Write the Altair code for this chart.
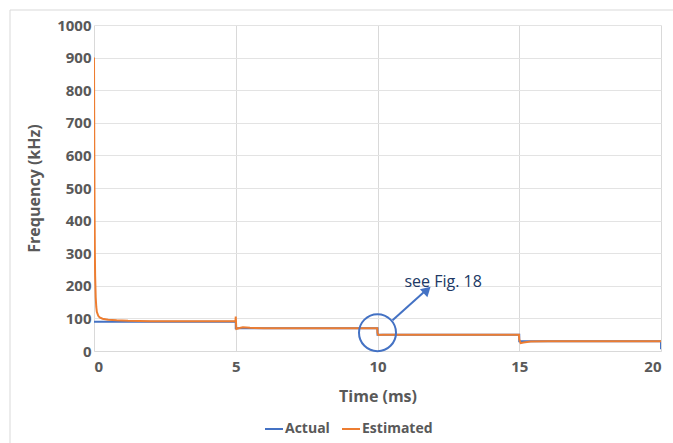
import altair as alt
import pandas as pd

# Set-point frequency (kHz) over time (ms)
actual_t = [0, 5, 5, 10, 10, 15, 15, 20, 20]
actual_f = [90, 90, 70, 70, 50, 50, 30, 30, 5]

# Estimated frequency from the observer
est_t = [0, 0.01, 0.02, 0.03, 0.04, 0.06, 0.08, 0.1, 0.15, 0.2, 0.3, 0.5, 0.8, 1.2, 2.0, 3.0,
         4.99, 5.0, 5.02, 5.1, 5.25, 5.5, 6.0, 9.99, 10.0, 10.03, 10.2, 10.5, 14.99, 15.0,
         15.05, 15.15, 15.4, 16.0, 20.0]
est_f = [900, 620, 420, 300, 230, 165, 135, 120, 108, 103, 99, 96, 94, 92.5, 91.5, 91,
         91, 106, 68, 70, 73, 71, 70, 70, 56, 49, 50, 50, 50, 36,
         24, 26, 29, 30, 30]

series_order = ["Actual", "Estimated"]
series_colors = ["#4472C4", "#ED7D31"]

x_ticks = [0, 5, 10, 15, 20]
y_ticks = [0, 100, 200, 300, 400, 500, 600, 700, 800, 900, 1000]

# Callout ring, arrow and note
ring_t, ring_f = [10.0], [56]
arrow_t, arrow_f, arrow_t2, arrow_f2 = [10.53], [94], [11.65], [182]
head_t, head_f = [11.75], [187]
note_t, note_f, note_text = [10.95], [212], ["see Fig. 18"]

rows = [{"t": t, "f": f, "series": "Actual", "k": i} for i, (t, f) in enumerate(zip(actual_t, actual_f))]
rows += [{"t": t, "f": f, "series": "Estimated", "k": i} for i, (t, f) in enumerate(zip(est_t, est_f))]
df = pd.DataFrame(rows)

FONT = "Open Sans"
GREY = "#595959"

x_scale = alt.Scale(domain=[0, 20], nice=False)
y_scale = alt.Scale(domain=[0, 1000], nice=False)

x_axis = alt.Axis(title="Time (ms)", values=x_ticks, format="d",
                  labelPadding=8, titlePadding=14, ticks=False, domainColor="#D9D9D9",
                  gridColor="#D9D9D9", labelOverlap=False)
y_axis = alt.Axis(title="Frequency (kHz)", values=y_ticks, format="d",
                  ticks=False, domain=False, labelPadding=3, titlePadding=14,
                  gridColor="#E3E3E3", labelOverlap=False)


def xq(field):
    return alt.X(field, scale=x_scale, axis=x_axis)


def yq(field):
    return alt.Y(field, scale=y_scale, axis=y_axis)


lines = alt.Chart(df).mark_line(strokeWidth=2, clip=True).encode(
    x=xq("t:Q"),
    y=yq("f:Q"),
    color=alt.Color("series:N", scale=alt.Scale(domain=series_order, range=series_colors),
                    legend=alt.Legend(title=None, orient="none", legendX=170, legendY=394,
                                      direction="horizontal", symbolType="stroke",
                                      symbolSize=324, symbolStrokeWidth=2,
                                      labelFontSize=14, labelFont=FONT, labelFontWeight="bold",
                                      labelColor=GREY, labelOffset=1, columnPadding=8)),
    order="k:Q",
)

ring = alt.Chart(pd.DataFrame({"t": ring_t, "f": ring_f})).mark_point(
    shape="circle", size=1369, filled=False, stroke="#4472C4", strokeWidth=2, opacity=1
).encode(x=xq("t:Q"), y=yq("f:Q"))

arrow = alt.Chart(pd.DataFrame({"t": arrow_t, "f": arrow_f, "t2": arrow_t2, "f2": arrow_f2})).mark_rule(
    stroke="#4472C4", strokeWidth=2
).encode(x=xq("t:Q"), y=yq("f:Q"), x2="t2:Q", y2="f2:Q")

head = alt.Chart(pd.DataFrame({"t": head_t, "f": head_f})).mark_point(
    shape="triangle-up", size=120, filled=True, color="#4472C4", angle=47, opacity=1
).encode(x=xq("t:Q"), y=yq("f:Q"))

note = alt.Chart(pd.DataFrame({"t": note_t, "f": note_f, "s": note_text})).mark_text(
    align="left", baseline="middle", font=FONT, fontSize=16, color="#203864"
).encode(x=xq("t:Q"), y=yq("f:Q"), text="s:N")

frame = alt.Chart(pd.DataFrame({"a": [0]})).mark_rect(
    fill=None, stroke="#D9D9D9", strokeWidth=1
).encode(x=alt.value(-84), x2=alt.value(700), y=alt.value(-15), y2=alt.value(500))

chart = alt.layer(frame, lines, ring, arrow, head, note).properties(
    width=567, height=326,
    autosize=alt.AutoSizeParams(type="none"),
    padding={"left": 94, "top": 25, "right": 12, "bottom": 92},
).configure_view(stroke=None).configure_axis(
    labelFont=FONT, labelFontSize=15, labelFontWeight="bold", labelColor=GREY,
    titleFont=FONT, titleFontSize=16, titleFontWeight="bold", titleColor=GREY,
)

chart.save("out.html", embed_options={"renderer": "svg", "actions": False})
